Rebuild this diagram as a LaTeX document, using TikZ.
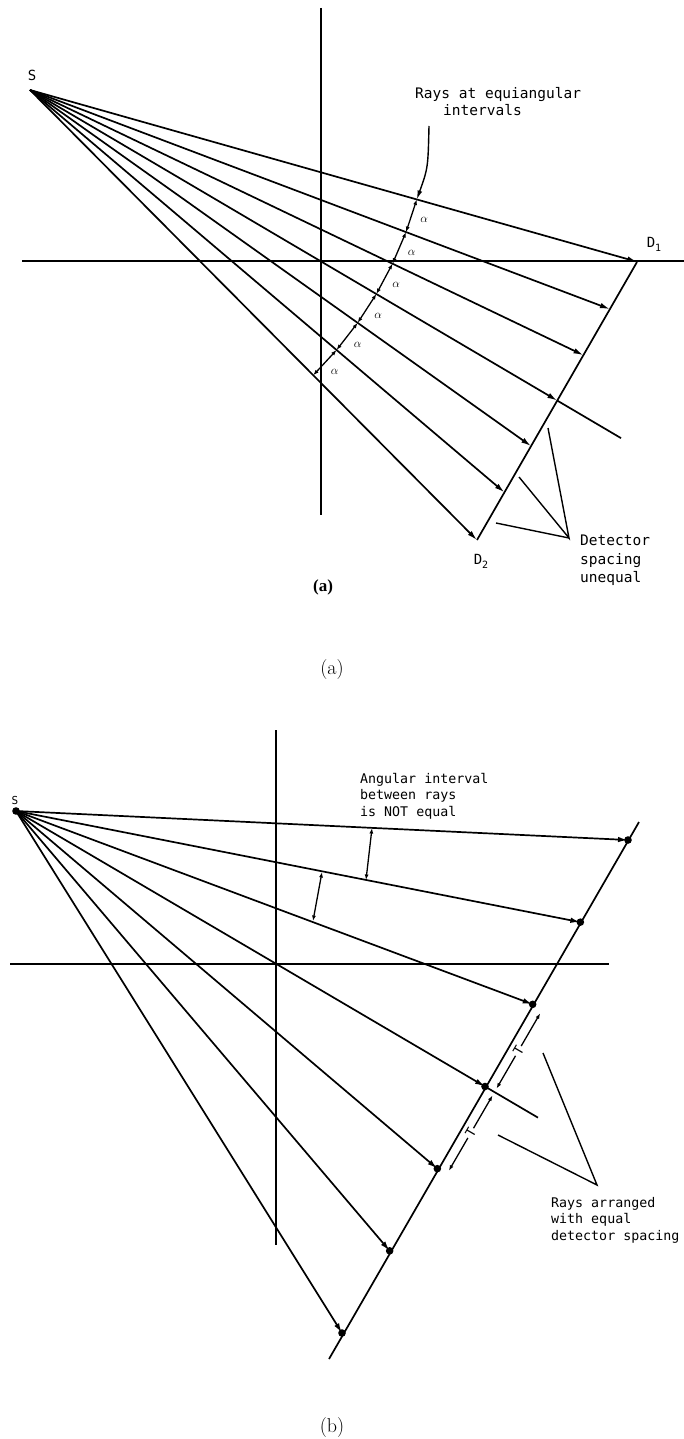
\documentclass[tikz,border=0pt]{standalone}
\usepackage{fontspec}
\usetikzlibrary{arrows.meta,calc}
\newfontfamily\notefont{DejaVu Sans Mono}
\newfontfamily\tagfont{Liberation Serif}
\tikzset{
  line/.style={line width=1.7pt},
  ray/.style={line width=1.7pt,-{Latex[length=10pt,width=5.5pt]}},
  pointer/.style={line width=1.4pt},
  gap/.style={line width=1.3pt,{Latex[length=5.5pt,width=4pt]}-{Latex[length=5.5pt,width=4pt]}},
  notea/.style={font=\notefont\fontsize{14.5}{18.5}\selectfont,inner sep=0pt,align=left},
  noteb/.style={font=\notefont\fontsize{13.3}{16.5}\selectfont,inner sep=0pt,align=left},
}
\begin{document}
\begin{tikzpicture}[x=1pt,y=-1pt]
\useasboundingbox (0,0) rectangle (684,1439);

% (a) rays at equal angles
\coordinate (Sa) at (30,90);
\coordinate (D1) at (637,262);
\coordinate (D2) at (477,540);
\draw[line] (321,8) -- (321,515);
\draw[line] (22,261) -- (684,261);
\draw[line] (D1) -- (D2);
\foreach \k in {0,...,6}{
  \pgfmathsetmacro\ang{15.8+4.9*\k}
  \coordinate (Fa\k) at ($(Sa)+(\ang:900)$);
  \coordinate (Ra\k) at (intersection cs: first line={(Sa)--(Fa\k)}, second line={(D1)--(D2)});
  \draw[ray] (Sa) -- (Ra\k);
}
\draw[line] (Ra3) -- ($(Sa)+(30.5:686)$);
\foreach \k in {0,...,5}{
  \pgfmathsetmacro\angA{15.8+4.9*\k}
  \pgfmathsetmacro\angB{\angA+4.9}
  \pgfmathsetmacro\angM{\angA+2.45}
  \draw[gap] ($(Sa)+(\angA:402)$) -- ($(Sa)+(\angB:402)$);
  \node[font=\fontsize{13}{13}\selectfont] (al\k) at ($(Sa)+(\angM:415)$) {$\alpha$};
}
\node[notea,anchor=north west] (eqa) at (415,87) {Rays at equiangular};
\node[notea,anchor=north west] (eqb) at (443,104) {intervals};
\coordinate (arctop) at ($(Sa)+(15.8:402)$);
\coordinate (bend) at (428,168);
\draw[pointer,-{Latex[length=9pt,width=5pt]}] (429,126) .. controls (bend) .. (arctop);
\coordinate (ua) at (569,538);
\draw[pointer] (548,428) -- (ua) -- (519,477);
\draw[pointer] (496,523) -- (ua);
\node[notea,anchor=north west] (dsa) at (580,535) {Detector\\spacing\\unequal};
\node[font=\notefont\fontsize{14}{14}\selectfont] (sa) at (32,75) {S};
\node[font=\notefont\fontsize{14}{14}\selectfont] (d1) at (654,244) {D\raisebox{-4pt}{\fontsize{10}{10}\selectfont 1}};
\node[font=\notefont\fontsize{14}{14}\selectfont] (d2) at (481,561) {D\raisebox{-4pt}{\fontsize{10}{10}\selectfont 2}};
\node[font=\tagfont\bfseries\fontsize{17}{17}\selectfont] (taga) at (323,587) {(a)};
\node[font=\fontsize{20}{24}\selectfont] (capa) at (332,670) {(a)};

% (b) rays at equal detector spacing
\coordinate (Sb) at (16,811);
\coordinate (P0) at (628,840);
\coordinate (P6) at (342,1333);
\draw[line] (276,730) -- (276,1245);
\draw[line] (10,964) -- (609,964);
\draw[line] (639,822) -- (329,1359);
\foreach \k in {1,...,5}{ \coordinate (P\k) at ($(P0)!\k/6!(P6)$); }
\foreach \k in {0,...,6}{
  \draw[ray] (Sb) -- (P\k);
  \fill (P\k) circle (3.8);
}
\fill (Sb) circle (3.8);
\draw[line] (P3) -- ($(Sb)!1.113!(P3)$);
\draw[gap] (372,828) -- (366,880);
\draw[gap] (322,872) -- (313,921);
\node[noteb,anchor=north west] (nq) at (360,773) {Angular interval\\between rays\\is NOT equal};
\draw[gap] ($(P2)!4pt!(P3)+(30:11)$) -- node[noteb,sloped,fill=white,inner sep=1.5pt] (t1) {T} ($(P3)!4pt!(P2)+(30:11)$);
\draw[gap] ($(P3)!4pt!(P4)+(30:11)$) -- node[noteb,sloped,fill=white,inner sep=1.5pt] (t2) {T} ($(P4)!4pt!(P3)+(30:11)$);
\coordinate (ub) at (597,1185);
\draw[pointer] (543,1053) -- (ub) -- (498,1135);
\node[noteb,anchor=north west] (eb) at (551,1197) {Rays arranged\\with equal\\detector spacing};
\node[font=\notefont\fontsize{11}{11}\selectfont] (sb) at (15,800) {S};
\node[font=\fontsize{20}{24}\selectfont] (capb) at (332,1427) {(b)};
\end{tikzpicture}
\end{document}
